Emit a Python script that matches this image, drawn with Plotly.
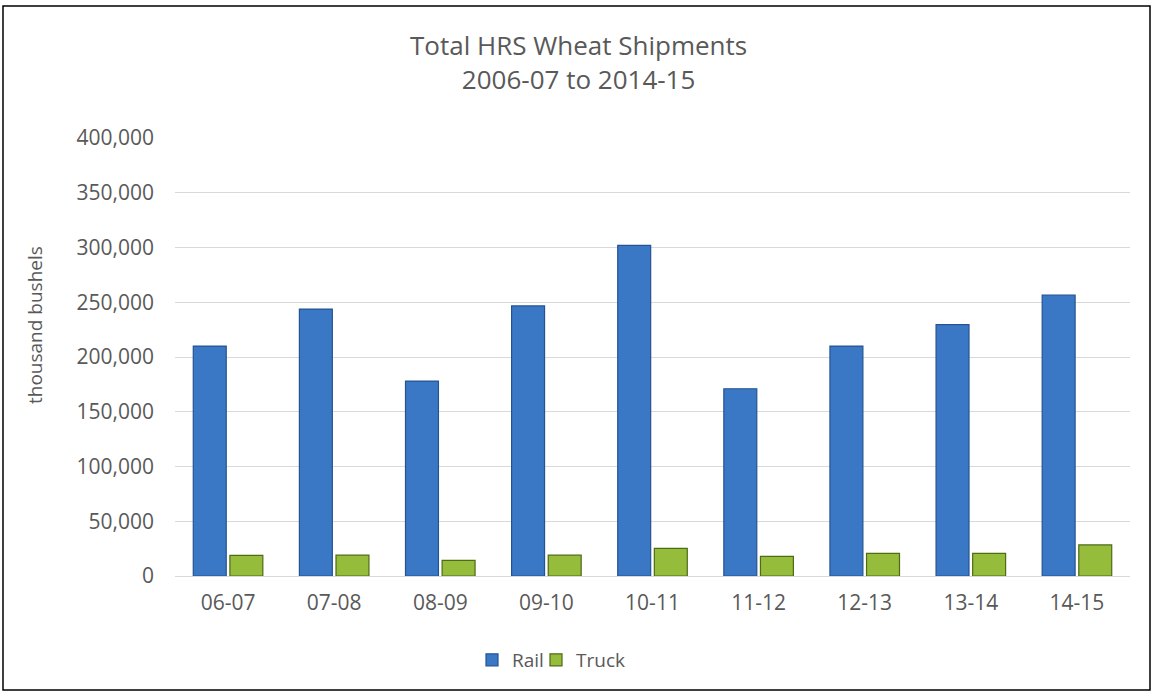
import plotly.graph_objects as go

categories = ["06-07", "07-08", "08-09", "09-10", "10-11", "11-12", "12-13", "13-14", "14-15"]
rail = [210000, 243800, 178000, 246600, 302000, 171000, 210000, 229600, 256600]
truck = [18900, 19000, 14300, 19000, 25300, 18000, 20700, 20700, 28400]
title_text = "Total HRS Wheat Shipments<br>2006-07 to 2014-15"
y_title = "thousand bushels"

FONT = "'Open Sans', sans-serif"
GREY = "#595959"

fig = go.Figure()
fig.add_trace(go.Bar(
    name="Rail", x=categories, y=rail, legend="legend",
    marker=dict(color="#3a78c6", line=dict(color="#255392", width=1.2)),
))
fig.add_trace(go.Bar(
    name="Truck", x=categories, y=truck, legend="legend2",
    marker=dict(color="#95bc3a", line=dict(color="#4f6b16", width=1.2)),
))

# plot area in pixels: x 175..1130, y 138..576
def px_x(p):
    return (p - 175) / 955

def px_y(p):
    return (576 - p) / 438

leg_common = dict(
    orientation="h", xanchor="left", y=px_y(660), yanchor="middle",
    font=dict(family=FONT, size=19, color=GREY), itemwidth=30,
    bgcolor="rgba(0,0,0,0)",
)

fig.update_layout(
    width=1154, height=696,
    paper_bgcolor="white", plot_bgcolor="white",
    margin=dict(l=175, r=24, t=138, b=120),
    font=dict(family=FONT, size=21, color=GREY),
    barmode="group", bargap=0.31, bargroupgap=0.1,
    legend=dict(x=px_x(472), **leg_common),
    legend2=dict(x=px_x(536), **leg_common),
    showlegend=True,
    annotations=[
        dict(text=title_text, xref="paper", yref="paper", x=px_x(578), y=px_y(62),
             showarrow=False, xanchor="center", yanchor="middle",
             font=dict(family=FONT, size=26, color=GREY)),
        dict(text=y_title, xref="paper", yref="paper", x=px_x(35), y=px_y(325),
             showarrow=False, xanchor="center", yanchor="middle", textangle=-90,
             font=dict(family=FONT, size=19, color=GREY)),
    ],
    shapes=[dict(
        type="rect", xref="paper", yref="paper",
        x0=px_x(3), x1=px_x(1150), y0=px_y(690), y1=px_y(6),
        line=dict(color="black", width=1.5), fillcolor="rgba(0,0,0,0)", layer="below",
    )],
)

fig.update_yaxes(
    range=[0, 400000], dtick=50000, tickformat=",",
    showgrid=True, gridcolor="#d9d9d9", gridwidth=1,
    zeroline=False, showline=False,
    ticks="", ticklabelstandoff=20,
)
fig.update_xaxes(
    type="category",
    showline=True, linecolor="#d9d9d9", linewidth=1,
    showgrid=False, ticks="", ticklabelstandoff=8,
)

fig.write_html("out.html", config={"displayModeBar": False},
               post_script="document.body.style.margin='0px';")
